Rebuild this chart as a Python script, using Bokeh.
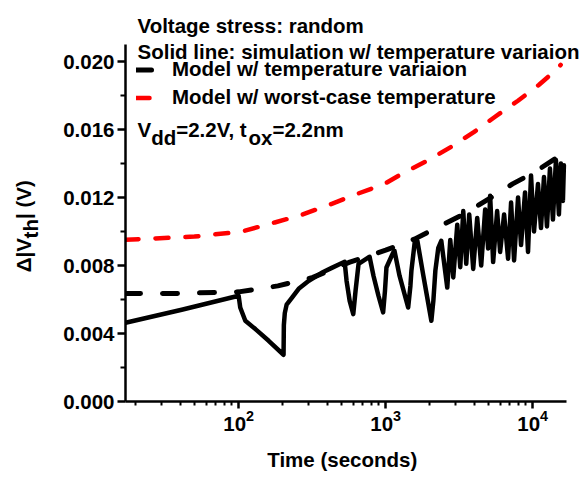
import math
from bokeh.plotting import figure
from bokeh.layouts import row
from bokeh.models import (Range1d, FixedTicker, PrintfTickFormatter, Label,
                          Legend, LegendItem)
from bokeh.embed import file_html
from bokeh.resources import INLINE

# ---------------- data ----------------
sim_t = [17, 41, 100, 102.5, 111, 130, 160, 202, 203, 206, 212, 230, 256, 300,
         367, 430, 526, 542, 569, 602, 624, 654, 760, 777, 826, 893, 961, 989,
         1012, 1124, 1148, 1242, 1422, 1473, 1496, 1575, 1643, 1804, 2045, 2110,
         2177, 2280, 2389, 2624, 2750, 2883, 3068, 3215, 3370, 3531, 3700, 3939,
         4193, 4463, 4750, 4977, 5135, 5381, 5728, 6002, 6389, 6801, 7128, 7469,
         7950, 8332, 8869, 9293, 9739, 10205, 10863, 11385, 11929, 12500, 13100,
         13726, 14387, 15075, 15556, 16049, 16300]
sim_v = [0.00463, 0.0054, 0.00622, 0.00553, 0.00475, 0.00426, 0.00357, 0.00275,
         0.0045, 0.0052, 0.0057, 0.0061, 0.00663, 0.0071, 0.00757, 0.00786,
         0.00822, 0.0071, 0.00592, 0.00514, 0.00651, 0.0081, 0.00847, 0.00851,
         0.0074, 0.00622, 0.00524, 0.00651, 0.00788, 0.00876, 0.00886, 0.0074,
         0.00553, 0.0068, 0.00769, 0.00935, 0.00945, 0.0074, 0.00475, 0.00592,
         0.00769, 0.00904, 0.00945, 0.0067, 0.0095, 0.0073, 0.0104, 0.0079,
         0.0112, 0.0081, 0.0110, 0.0078, 0.0108, 0.0080, 0.0113, 0.0090, 0.0121,
         0.0082, 0.0112, 0.0088, 0.0110, 0.0084, 0.0117, 0.0083, 0.0120, 0.0092,
         0.0123, 0.0088, 0.0133, 0.0100, 0.0128, 0.0102, 0.0132, 0.0103, 0.0137,
         0.0107, 0.0142, 0.0110, 0.0140, 0.0118, 0.0139]

model_t = [17, 40, 100, 185, 320, 570, 1000, 1570, 2200, 3370, 5000, 7300,
           10200, 14600, 15500]
model_v = [0.00635, 0.00636, 0.00645, 0.0068, 0.0073, 0.0082, 0.0089, 0.00955,
           0.0102, 0.0110, 0.0119, 0.0128, 0.01347, 0.01435, 0.0145]

worst_t = [17, 50, 105, 176, 269, 430, 644, 982, 1320, 1920, 2790, 4000, 5550,
           7940, 11040, 14700, 15500]
worst_v = [0.00951, 0.0097, 0.0100, 0.01053, 0.01098, 0.01163, 0.01222, 0.0128,
           0.01345, 0.01416, 0.01498, 0.01586, 0.01675, 0.01769, 0.01863,
           0.01957, 0.0198]

x_major = [100, 1000, 10000]
x_minor = [20, 30, 40, 50, 60, 70, 80, 90, 200, 300, 400, 500, 600, 700, 800,
           900, 2000, 3000, 4000, 5000, 6000, 7000, 8000, 9000]
y_major = [0.000, 0.004, 0.008, 0.012, 0.016, 0.020]
y_minor = [0.002, 0.006, 0.010, 0.014, 0.018]

FONT = "Liberation Sans"
FS = "20.5px"

# axis extents (data) and frame geometry
X_LO, X_HI = 17, 17000
Y_LO, Y_HI = 0.0, 0.021
LEFT_W = 60                       # width of the strip holding the y label
MAIN_W = 587 - LEFT_W
FRAME_L = 63                      # frame left inside the main figure
AXIS_TOP = 44                     # y pixel of Y_HI
AXIS_BOTTOM = 401                 # y pixel of Y_LO
AXIS_RIGHT_PAD = 21               # px between x-axis end and canvas edge

frame_w = MAIN_W - FRAME_L
axis_w = frame_w - AXIS_RIGHT_PAD
x_end = X_HI * 10 ** (math.log10(X_HI / X_LO) * AXIS_RIGHT_PAD / axis_w)
y_end = Y_HI * AXIS_BOTTOM / (AXIS_BOTTOM - AXIS_TOP)

p = figure(width=MAIN_W, height=477, x_axis_type="log",
           x_range=Range1d(X_LO, x_end), y_range=Range1d(Y_LO, y_end),
           output_backend="svg", toolbar_location=None,
           min_border_left=FRAME_L, min_border_right=0,
           min_border_top=0, min_border_bottom=477 - AXIS_BOTTOM)
p.outline_line_color = None
p.grid.visible = False
p.background_fill_color = "white"
p.border_fill_color = "white"

for ax in (p.xaxis[0], p.yaxis[0]):
    ax.axis_line_width = 2.5
    ax.axis_line_color = "black"
    ax.major_tick_line_width = 2.5
    ax.minor_tick_line_width = 2
    ax.major_tick_line_color = "black"
    ax.minor_tick_line_color = "black"
    ax.major_tick_in = 0
    ax.minor_tick_in = 0
    ax.major_label_text_font = FONT
    ax.major_label_text_font_size = FS
    ax.major_label_text_font_style = "bold"
    ax.major_label_text_color = "black"

p.xaxis.bounds = (X_LO, X_HI)
p.yaxis.bounds = (Y_LO, Y_HI)

p.xaxis.ticker = FixedTicker(ticks=x_major, minor_ticks=x_minor)
p.xaxis.major_tick_out = 7
p.xaxis.minor_tick_out = 4
p.xaxis.major_label_standoff = 1
# the label is centred on the (wider) frame; trailing no-break spaces move the
# visible words back over the centre of the drawn axis
p.xaxis.axis_label = "Time (seconds)" + "\u00a0" * 5
p.xaxis.axis_label_text_font = FONT
p.xaxis.axis_label_text_font_size = FS
p.xaxis.axis_label_text_font_style = "bold"
p.xaxis.axis_label_text_color = "black"
p.xaxis.axis_label_standoff = 14

p.yaxis.ticker = FixedTicker(ticks=y_major, minor_ticks=y_minor)
p.yaxis.formatter = PrintfTickFormatter(format="%.3f")
p.yaxis.major_tick_out = 8
p.yaxis.minor_tick_out = 5
p.yaxis.major_label_standoff = 3

r_worst = p.line(worst_t, worst_v, line_color="#ff0000", line_width=4.5,
                 line_dash="13 17", line_cap="round", line_join="round")
r_model = p.line(model_t, model_v, line_color="black", line_width=5,
                 line_dash="15 22", line_cap="round", line_join="round")
r_sim = p.line(sim_t, sim_v, line_color="black", line_width=4.5,
               line_cap="round", line_join="round")

legend = Legend(items=[LegendItem(label="Model w/ temperature variaion", renderers=[r_model]),
                       LegendItem(label="Model w/ worst-case temperature", renderers=[r_worst])],
                location=(11, 292), padding=0, margin=0, spacing=4,
                glyph_width=20, glyph_height=23, label_height=23,
                label_standoff=16, border_line_color=None,
                background_fill_alpha=0,
                label_text_font=FONT, label_text_font_size=FS,
                label_text_font_style="bold", label_text_color="black")
p.add_layout(legend)


def lab(fig, txt, x, y, angle=0.0):
    fig.add_layout(Label(x=x, y=y, x_units="screen", y_units="screen", text=txt,
                         angle=angle, text_font=FONT, text_font_size=FS,
                         text_font_style="bold", text_color="black",
                         text_align="left", text_baseline="alphabetic"))


# header texts (frame-relative screen coordinates, y upwards)
lab(p, "Voltage stress: random", 12, 376)
lab(p, "Solid line: simulation w/ temperature variaion", 12, 350)
lab(p, "V", 12, 271.7)
lab(p, "dd", 25.7, 264.3)
lab(p, "=2.2V, t", 50.7, 271.7)
lab(p, "ox", 123.1, 264.3)
lab(p, "=2.2nm", 147, 271.7)

# left strip carrying the rotated y-axis label: Δ|V_th| (V)
q = figure(width=LEFT_W, height=477, x_range=Range1d(0, 1), y_range=Range1d(0, 1),
           output_backend="svg", toolbar_location=None,
           x_axis_location=None, y_axis_location=None, min_border=0)
q.outline_line_color = None
q.grid.visible = False
q.background_fill_color = "white"
q.border_fill_color = "white"
lab(q, "\u0394|V", 23, 129.3, math.pi / 2)
lab(q, "th", 30, 163.1, math.pi / 2)
lab(q, "| (V)", 23, 182.5, math.pi / 2)

layout = row(q, p, spacing=0)
open("out.html", "w").write(file_html(layout, INLINE))
